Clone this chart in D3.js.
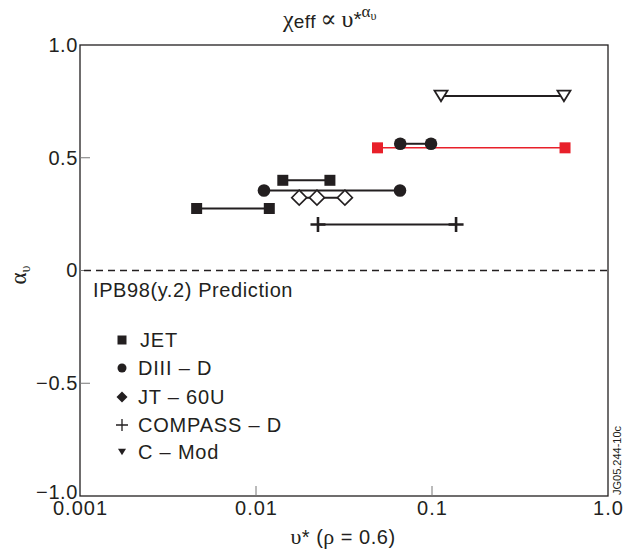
<!DOCTYPE html>
<html>
<head>
<meta charset="utf-8">
<script src="https://cdn.jsdelivr.net/npm/d3@7"></script>
<style>
  html, body { margin: 0; padding: 0; background: #fff; }
  svg { display: block; }
  text { font-family: "Liberation Sans", Arial, Helvetica, sans-serif; fill: #231f20; }
  .greek { font-family: "Liberation Serif", "DejaVu Serif", serif; }
</style>
</head>
<body>
<svg id="chart" width="623" height="555"></svg>
<script>
// Scaling exponent α_υ of χ_eff against collisionality υ*, per tokamak.
// Each segment: exponent value and the collisionality points it spans.
const jet = [
  { alpha: 0.275, nu: [0.0046, 0.0119] },
  { alpha: 0.40,  nu: [0.0142, 0.0263] }
];
const jetHighlight = [
  { alpha: 0.544, nu: [0.049, 0.57] }
];
const diiid = [
  { alpha: 0.355, nu: [0.0111, 0.0658] },
  { alpha: 0.562, nu: [0.066, 0.0987] }
];
const jt60u = [
  { alpha: 0.323, nu: [0.0176, 0.0222, 0.032] }
];
const compassD = [
  { alpha: 0.204, nu: [0.0225, 0.137] }
];
const cmod = [
  { alpha: 0.774, nu: [0.1125, 0.562] }
];

const xTicks = [0.001, 0.01, 0.1, 1.0];
const xTickLabels = ["0.001", "0.01", "0.1", "1.0"];
const yTicks = [-1, -0.5, 0, 0.5, 1];
const yTickLabels = ["\u22121.0", "\u22120.5", "0", "0.5", "1.0"];

const legendNames = ["JET", "DIII \u2013 D", "JT \u2013 60U", "COMPASS \u2013 D", "C \u2013 Mod"];

const svg = d3.select("#chart");
const plot = { left: 80, right: 608, top: 45, bottom: 496 };

const x = d3.scaleLog().domain([0.001, 1]).range([plot.left, plot.right]);
const y = d3.scaleLinear().domain([-1, 1]).range([plot.bottom, plot.top]);

const ink = "#231f20";

// Frame
svg.append("rect")
  .attr("x", plot.left).attr("y", plot.top)
  .attr("width", plot.right - plot.left).attr("height", plot.bottom - plot.top)
  .attr("fill", "none").attr("stroke", ink).attr("stroke-width", 1.3);

// Bottom axis: inward ticks at the inner decades
const xAxis = d3.axisBottom(x)
  .tickValues(xTicks)
  .tickSize(0)
  .tickPadding(5)
  .tickFormat((d, i) => xTickLabels[i]);
const gx = svg.append("g").attr("transform", `translate(0,${plot.bottom})`).call(xAxis);
gx.select(".domain").remove();
gx.selectAll("text").attr("font-size", 20).attr("fill", ink)
  .attr("letter-spacing", 1)
  .style("font-family", '"Liberation Sans", Arial, sans-serif');
svg.append("g").selectAll("line")
  .data(xTicks.slice(1, -1))
  .join("line")
  .attr("x1", d => x(d)).attr("x2", d => x(d))
  .attr("y1", plot.bottom).attr("y2", plot.bottom - 10)
  .attr("stroke", "#777").attr("stroke-width", 1);

// Left axis: inward ticks
const yAxis = d3.axisLeft(y)
  .tickValues(yTicks)
  .tickSize(0)
  .tickPadding(2)
  .tickFormat((d, i) => yTickLabels[i]);
const gy = svg.append("g").attr("transform", `translate(${plot.left},0)`).call(yAxis);
gy.select(".domain").remove();
gy.selectAll("text").attr("font-size", 20).attr("fill", ink)
  .attr("letter-spacing", 0.6)
  .style("font-family", '"Liberation Sans", Arial, sans-serif');
// lowest label sits on the baseline so it clears the bottom tick labels
gy.selectAll("text").filter(d => d === -1).attr("dy", "0.1em");
svg.append("g").selectAll("line")
  .data(yTicks.slice(1, -1))
  .join("line")
  .attr("x1", plot.left).attr("x2", plot.left + 10)
  .attr("y1", d => y(d)).attr("y2", d => y(d))
  .attr("stroke", "#777").attr("stroke-width", 1);

// Zero-exponent reference (IPB98(y,2) scaling)
svg.append("line")
  .attr("x1", plot.left + 4).attr("x2", plot.right)
  .attr("y1", y(0)).attr("y2", y(0))
  .attr("stroke", ink).attr("stroke-width", 1.3)
  .attr("stroke-dasharray", "7,5");
svg.append("text")
  .attr("x", plot.left + 13).attr("y", y(0) + 26)
  .attr("font-size", 20)
  .attr("letter-spacing", 0.6)
  .text("IPB98(y.2) Prediction");

// Marker path builders
function plusPath(size) {
  const h = size / 2;
  return `M${-h},0H${h}M0,${-h}V${h}`;
}
function downTriangle(w) {
  const h = w * 0.82;
  return `M${-w / 2},${-h / 2}L${w / 2},${-h / 2}L0,${h / 2}Z`;
}
function diamondPath(w, hgt) {
  return `M0,${-hgt / 2}L${w / 2},0L0,${hgt / 2}L${-w / 2},0Z`;
}
function squarePath(s) {
  return `M${-s / 2},${-s / 2}h${s}v${s}h${-s}Z`;
}
function circlePath(r) {
  return `M${r},0A${r},${r} 0 1,1 ${-r},0A${r},${r} 0 1,1 ${r},0Z`;
}

function drawSeries(data, opts) {
  const g = svg.append("g");
  data.forEach(seg => {
    g.append("line")
      .attr("x1", x(d3.min(seg.nu))).attr("x2", x(d3.max(seg.nu)))
      .attr("y1", y(seg.alpha)).attr("y2", y(seg.alpha))
      .attr("stroke", opts.line).attr("stroke-width", opts.lineWidth);
    g.selectAll(null)
      .data(seg.nu)
      .join("path")
      .attr("transform", d => `translate(${x(d)},${y(seg.alpha)})`)
      .attr("d", opts.shape)
      .attr("fill", opts.fill)
      .attr("stroke", opts.stroke)
      .attr("stroke-width", opts.strokeWidth || 0);
  });
}

drawSeries(jetHighlight, { line: "#e8202a", lineWidth: 1.5, shape: squarePath(11), fill: "#e8202a", stroke: "none" });
drawSeries(jet, { line: ink, lineWidth: 2, shape: squarePath(11), fill: ink, stroke: "none" });
drawSeries(diiid, { line: ink, lineWidth: 2, shape: circlePath(6.3), fill: ink, stroke: "none" });
drawSeries(jt60u, { line: ink, lineWidth: 2, shape: diamondPath(15, 15), fill: "#fff", stroke: ink, strokeWidth: 1.6 });
drawSeries(compassD, { line: ink, lineWidth: 2, shape: plusPath(15), fill: "none", stroke: ink, strokeWidth: 2.6 });
drawSeries(cmod, { line: ink, lineWidth: 2, shape: downTriangle(13), fill: "#fff", stroke: ink, strokeWidth: 1.8 });

// Legend
const legendShapes = [
  { d: squarePath(9), fill: ink, stroke: "none", sw: 0 },
  { d: circlePath(4.5), fill: ink, stroke: "none", sw: 0 },
  { d: diamondPath(11, 11), fill: ink, stroke: "none", sw: 0 },
  { d: plusPath(12), fill: "none", stroke: ink, sw: 1.3 },
  { d: downTriangle(8), fill: ink, stroke: "none", sw: 0 }
];
const legendY = [340, 368, 397, 425, 452];
const lg = svg.append("g");
legendNames.forEach((name, i) => {
  const s = legendShapes[i];
  lg.append("path")
    .attr("transform", `translate(122,${legendY[i]})`)
    .attr("d", s.d).attr("fill", s.fill).attr("stroke", s.stroke).attr("stroke-width", s.sw);
  lg.append("text")
    .attr("x", i === 0 ? 140 : 138).attr("y", legendY[i])
    .attr("dy", "0.36em")
    .attr("font-size", 20)
    .attr("letter-spacing", 0.8)
    .text(name);
});

// Title: χ_eff ∝ υ*^(α_υ)
const title = svg.append("text")
  .attr("x", 283).attr("y", 27)
  .attr("font-size", 24);
title.append("tspan").attr("class", "greek").text("\u03c7");
title.append("tspan").attr("font-size", 19).attr("letter-spacing", 0.6).attr("dy", 1).text("eff");
title.append("tspan").attr("class", "greek").attr("dy", -1).attr("dx", 4).text("\u221d");
title.append("tspan").attr("class", "greek").attr("dx", 5).text("\u03c5");
title.append("tspan").attr("font-size", 21).attr("dy", -1).text("*");
title.append("tspan").attr("class", "greek").attr("font-size", 17).attr("dy", -9).text("\u03b1");
title.append("tspan").attr("class", "greek").attr("font-size", 12).attr("dy", 3).text("\u03c5");

// Axis titles
const xt = svg.append("text")
  .attr("x", 343).attr("y", 544)
  .attr("text-anchor", "middle")
  .attr("font-size", 20)
  .attr("letter-spacing", 0.5);
xt.append("tspan").attr("class", "greek").attr("font-size", 22).text("\u03c5");
xt.append("tspan").text("* (");
xt.append("tspan").attr("class", "greek").attr("font-size", 22).text("\u03c1");
xt.append("tspan").text(" = 0.6)");

const yt = svg.append("text")
  .attr("transform", "translate(26,275) rotate(-90)")
  .attr("text-anchor", "middle")
  .attr("font-size", 23);
yt.append("tspan").attr("class", "greek").text("\u03b1");
yt.append("tspan").attr("class", "greek").attr("font-size", 14).attr("dy", 4).text("\u03c5");

// Figure reference code
svg.append("text")
  .attr("transform", "translate(621,495) rotate(-90)")
  .attr("font-size", 11)
  .text("JG05.244-10c");
</script>
</body>
</html>
